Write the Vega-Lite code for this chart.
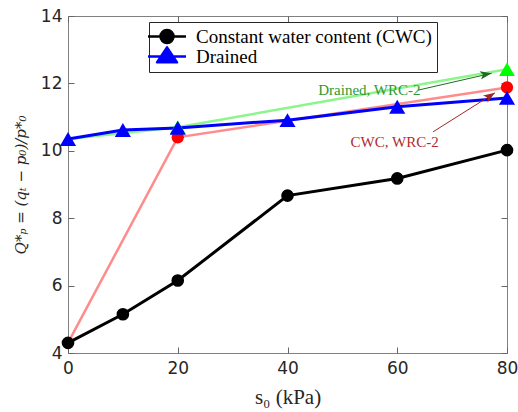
{
  "$schema": "https://vega.github.io/schema/vega-lite/v6.json",
  "width": 439,
  "height": 337,
  "autosize": {"type": "none"},
  "padding": {"left": 68, "top": 16, "right": 11, "bottom": 59},
  "background": "white",
  "config": {
    "view": {"stroke": "#808080", "strokeWidth": 1},
    "axis": {
      "grid": false,
      "domain": false,
      "zindex": 1,
      "tickColor": "#666666",
      "tickSize": -6,
      "tickWidth": 1,
      "labelFlush": false,
      "labelFont": "DejaVu Sans",
      "labelFontSize": 17,
      "labelColor": "#262626",
      "titleFont": "Liberation Serif",
      "titleFontSize": 21,
      "titleFontWeight": "normal",
      "titleColor": "#262626"
    }
  },
  "datasets": {
    "main": [
      {"series": "CWC", "s0": 0, "Q": 4.3},
      {"series": "CWC", "s0": 10, "Q": 5.15},
      {"series": "CWC", "s0": 20, "Q": 6.15},
      {"series": "CWC", "s0": 40, "Q": 8.67},
      {"series": "CWC", "s0": 60, "Q": 9.18},
      {"series": "CWC", "s0": 80, "Q": 10.02},
      {"series": "Drained", "s0": 0, "Q": 10.35},
      {"series": "Drained", "s0": 10, "Q": 10.62},
      {"series": "Drained", "s0": 20, "Q": 10.68},
      {"series": "Drained", "s0": 40, "Q": 10.91},
      {"series": "Drained", "s0": 60, "Q": 11.31},
      {"series": "Drained", "s0": 80, "Q": 11.57},
      {"series": "CWC-WRC2", "s0": 0, "Q": 4.3},
      {"series": "CWC-WRC2", "s0": 20, "Q": 10.4},
      {"series": "CWC-WRC2", "s0": 80, "Q": 11.88},
      {"series": "Drained-WRC2", "s0": 0, "Q": 10.35},
      {"series": "Drained-WRC2", "s0": 20, "Q": 10.7},
      {"series": "Drained-WRC2", "s0": 80, "Q": 12.42}
    ],
    "arrows": [
      {"kind": "Drained", "x": 63.8, "y": 11.8, "x2": 77.2, "y2": 12.3},
      {"kind": "CWC", "x": 66.5, "y": 10.56, "x2": 77.8, "y2": 11.72}
    ],
    "notes": [
      {"kind": "Drained", "x": 45.6, "y": 11.8, "text": "Drained, WRC-2"},
      {"kind": "CWC", "x": 51.5, "y": 10.26, "text": "CWC, WRC-2"}
    ]
  },
  "layer": [
    {
      "data": {"name": "main"},
      "transform": [{"filter": "datum.series == 'CWC-WRC2'"}],
      "mark": {"type": "line", "color": "#ff8c8c", "strokeWidth": 2.5},
      "encoding": {
        "x": {"field": "s0", "type": "quantitative", "scale": {"domain": [0, 80], "nice": false, "zero": false},
              "axis": {"orient": "bottom", "values": [0, 20, 40, 60, 80], "title": "s₀ (kPa)", "labelPadding": 13, "titlePadding": 10}},
        "y": {"field": "Q", "type": "quantitative", "scale": {"domain": [4, 14], "nice": false, "zero": false},
              "axis": {"orient": "left", "values": [4, 6, 8, 10, 12, 14], "title": "Q*ₚ = (qₜ − p₀)/p*₀", "titleFont": "DejaVu Serif", "titleFontSize": 15, "titleFontStyle": "italic", "labelPadding": 12, "titlePadding": 12}}
      }
    },
    {
      "data": {"name": "main"},
      "transform": [{"filter": "datum.series == 'Drained-WRC2'"}],
      "mark": {"type": "line", "color": "#8cf58c", "strokeWidth": 2.5},
      "encoding": {
        "x": {"field": "s0", "type": "quantitative", "axis": null},
        "y": {"field": "Q", "type": "quantitative", "axis": null}
      }
    },
    {
      "data": {"name": "main"},
      "transform": [{"filter": "datum.series == 'CWC'"}],
      "mark": {"type": "line", "color": "black", "strokeWidth": 3},
      "encoding": {
        "x": {"field": "s0", "type": "quantitative", "axis": null},
        "y": {"field": "Q", "type": "quantitative", "axis": null}
      }
    },
    {
      "data": {"name": "main"},
      "transform": [{"filter": "datum.series == 'Drained'"}],
      "mark": {"type": "line", "color": "blue", "strokeWidth": 3},
      "encoding": {
        "x": {"field": "s0", "type": "quantitative", "axis": null},
        "y": {"field": "Q", "type": "quantitative", "axis": null}
      }
    },
    {
      "data": {"name": "main"},
      "transform": [{"filter": "datum.series == 'CWC-WRC2' && datum.s0 >= 20"}],
      "mark": {"type": "point", "shape": "circle", "filled": true, "color": "red", "size": 150, "opacity": 1},
      "encoding": {
        "x": {"field": "s0", "type": "quantitative", "axis": null},
        "y": {"field": "Q", "type": "quantitative", "axis": null}
      }
    },
    {
      "data": {"name": "main"},
      "transform": [{"filter": "datum.series == 'Drained-WRC2' && datum.s0 >= 20"}],
      "mark": {"type": "point", "shape": "triangle-up", "filled": true, "color": "#00ff00", "size": 250, "opacity": 1},
      "encoding": {
        "x": {"field": "s0", "type": "quantitative", "axis": null},
        "y": {"field": "Q", "type": "quantitative", "axis": null}
      }
    },
    {
      "data": {"name": "main"},
      "transform": [{"filter": "datum.series == 'CWC' || datum.series == 'Drained'"}],
      "mark": {"type": "point", "filled": true, "opacity": 1},
      "encoding": {
        "x": {"field": "s0", "type": "quantitative", "axis": null},
        "y": {"field": "Q", "type": "quantitative", "axis": null},
        "size": {"field": "series", "type": "nominal", "scale": {"domain": ["CWC", "Drained"], "range": [160, 260]}, "legend": null},
        "color": {
          "field": "series", "type": "nominal",
          "scale": {"domain": ["CWC", "Drained"], "range": ["black", "blue"]},
          "legend": {
            "title": null, "orient": "none", "legendX": 81, "legendY": 6,
            "labelExpr": "datum.value == 'CWC' ? 'Constant water content (CWC)' : 'Drained'",
            "labelFont": "Liberation Serif", "labelFontSize": 19, "labelColor": "black", "labelLimit": 0,
            "labelOffset": 23, "symbolSize": 169, "rowPadding": -6,
            "strokeColor": "#262626", "fillColor": "white", "padding": 5,
            "symbolOpacity": 1,
            "encode": {
              "symbols": {
                "update": {
                  "shape": {"signal": "datum.value == 'CWC' ? 'M-2.38,0H3.46M1.54,0A1,1 0 1,1 -0.46,0A1,1 0 1,1 1.54,0Z' : 'M-2.38,0H3.46M0.54,-1.4L2.08,0.9L-1,0.9Z'"},
                  "stroke": {"signal": "datum.value == 'CWC' ? 'black' : 'blue'"},
                  "strokeWidth": {"value": 2.5},
                  "strokeJoin": {"value": "round"}
                }
              }
            }
          }
        },
        "shape": {
          "field": "series", "type": "nominal",
          "scale": {"domain": ["CWC", "Drained"], "range": ["circle", "triangle-up"]},
          "legend": {
            "title": null, "orient": "none", "legendX": 81, "legendY": 6,
            "labelExpr": "datum.value == 'CWC' ? 'Constant water content (CWC)' : 'Drained'",
            "labelFont": "Liberation Serif", "labelFontSize": 19, "labelColor": "black", "labelLimit": 0,
            "labelOffset": 23, "symbolSize": 169, "rowPadding": -6,
            "strokeColor": "#262626", "fillColor": "white", "padding": 5,
            "symbolOpacity": 1,
            "encode": {
              "symbols": {
                "update": {
                  "shape": {"signal": "datum.value == 'CWC' ? 'M-2.38,0H3.46M1.54,0A1,1 0 1,1 -0.46,0A1,1 0 1,1 1.54,0Z' : 'M-2.38,0H3.46M0.54,-1.4L2.08,0.9L-1,0.9Z'"},
                  "stroke": {"signal": "datum.value == 'CWC' ? 'black' : 'blue'"},
                  "strokeWidth": {"value": 2.5},
                  "strokeJoin": {"value": "round"}
                }
              }
            }
          }
        }
      }
    },
    {
      "data": {"name": "arrows"},
      "mark": {"type": "rule", "strokeWidth": 1},
      "encoding": {
        "x": {"field": "x", "type": "quantitative", "axis": null},
        "y": {"field": "y", "type": "quantitative", "axis": null},
        "x2": {"field": "x2"},
        "y2": {"field": "y2"},
        "color": {"field": "kind", "type": "nominal", "scale": {"domain": ["Drained", "CWC"], "range": ["#1f6e1f", "#a32525"]}, "legend": null}
      }
    },
    {
      "data": {"name": "arrows"},
      "transform": [{"filter": "datum.kind == 'Drained'"}],
      "mark": {"type": "point", "shape": "M0,0L-1.2,3.3L0,2.5L1.2,3.3Z", "filled": true, "color": "#1f6e1f", "size": 49, "angle": 80, "opacity": 1},
      "encoding": {
        "x": {"field": "x2", "type": "quantitative", "axis": null},
        "y": {"field": "y2", "type": "quantitative", "axis": null}
      }
    },
    {
      "data": {"name": "arrows"},
      "transform": [{"filter": "datum.kind == 'CWC'"}],
      "mark": {"type": "point", "shape": "M0,0L-1.2,3.3L0,2.5L1.2,3.3Z", "filled": true, "color": "#a32525", "size": 49, "angle": 57, "opacity": 1},
      "encoding": {
        "x": {"field": "x2", "type": "quantitative", "axis": null},
        "y": {"field": "y2", "type": "quantitative", "axis": null}
      }
    },
    {
      "data": {"name": "notes"},
      "mark": {"type": "text", "align": "left", "baseline": "middle", "font": "Liberation Serif", "fontSize": 15},
      "encoding": {
        "x": {"field": "x", "type": "quantitative",
              "axis": {"orient": "top", "values": [0, 20, 40, 60, 80], "labels": false, "title": null}},
        "y": {"field": "y", "type": "quantitative",
              "axis": {"orient": "right", "values": [4, 6, 8, 10, 12, 14], "labels": false, "title": null}},
        "text": {"field": "text"},
        "color": {"field": "kind", "type": "nominal", "scale": {"domain": ["Drained", "CWC"], "range": ["#2e9a2e", "#b02c2c"]}, "legend": null}
      }
    }
  ],
  "resolve": {"axis": {"x": "independent", "y": "independent"}, "scale": {"color": "independent"}}
}
